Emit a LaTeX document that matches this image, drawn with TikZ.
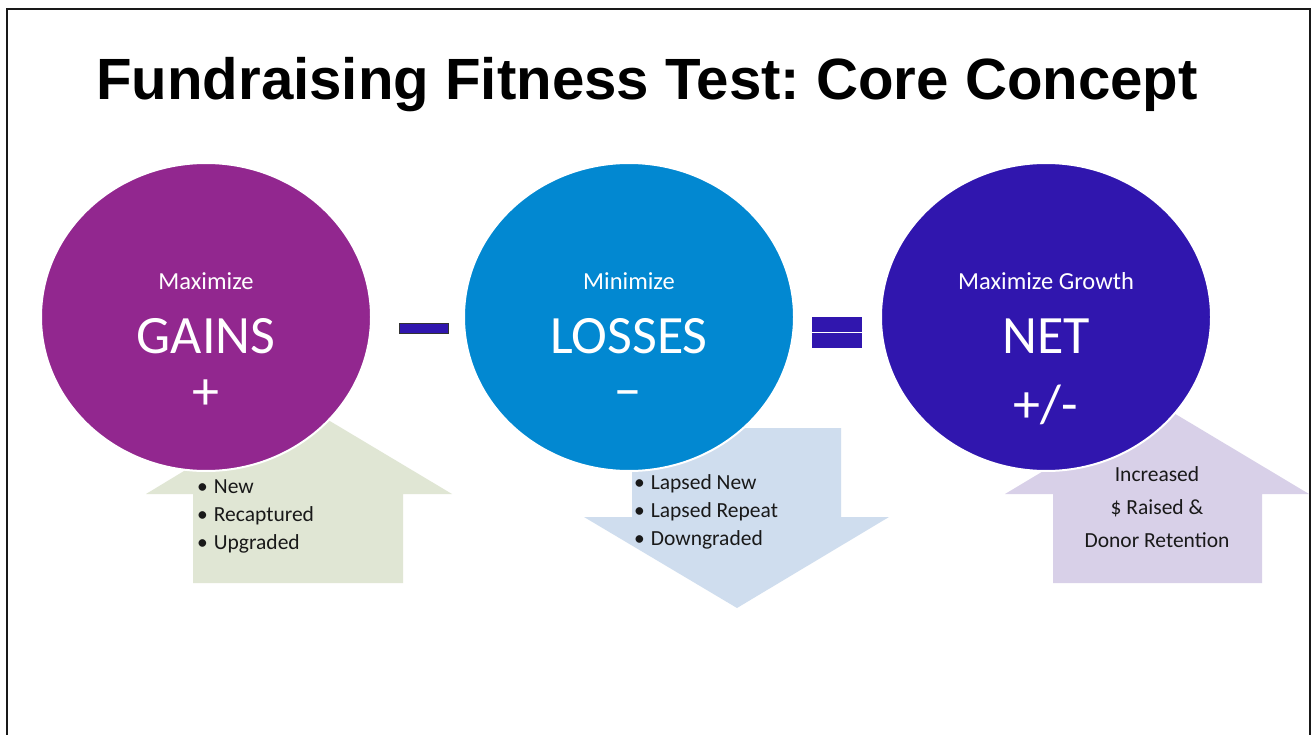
\documentclass[tikz,border=0pt]{standalone}
\usepackage{fontspec}
\setmainfont{Carlito}
\newfontfamily\headfont{Liberation Sans}
\usetikzlibrary{shapes.geometric}
\frenchspacing

\definecolor{gainpurple}{RGB}{146,39,143}
\definecolor{lossblue}{RGB}{2,136,209}
\definecolor{netindigo}{RGB}{48,22,174}
\definecolor{gainarrow}{RGB}{224,230,212}
\definecolor{lossarrow}{RGB}{207,221,238}
\definecolor{netarrow}{RGB}{216,208,232}

\tikzset{
  bubble/.style={ellipse, draw=white, line width=2pt, minimum width=330pt, minimum height=308pt, inner sep=0pt},
  smalllabel/.style={text=white, font=\fontsize{24.5}{28}\selectfont, inner sep=0pt},
  biglabel/.style={text=white, font=\fontsize{54}{60}\selectfont, inner sep=0pt},
  itemtext/.style={text=black!90, font=\fontsize{21.5}{28}\selectfont, inner sep=0pt, anchor=west, align=left},
  optbar/.style={fill=netindigo},
}

\begin{document}
\begin{tikzpicture}[x=1pt, y=-1pt]
\useasboundingbox (0,0) rectangle (1312,735);
\fill[white] (0,0) rectangle (1312,735);

% slide frame, open at the bottom
\draw[line width=2.5pt, black!90] (7,735) -- (7,9) -- (1310,9) -- (1310,735);

% title
\node[inner sep=0pt, anchor=base] (title) at (647,100)
  {\headfont\bfseries\fontsize{58.2}{66}\selectfont Fundraising Fitness Test: Core Concept};

% block arrows behind the bubbles
\fill[gainarrow] (193,583) -- (193,494) -- (146,494) -- (298,402) -- (452,494) -- (403,494) -- (403,583) -- cycle;
\fill[lossarrow] (632,428) -- (841,428) -- (841,517) -- (889,517) -- (737,608) -- (584,517) -- (632,517) -- cycle;
\fill[netarrow] (1053,583) -- (1053,494) -- (1005,494) -- (1157,403) -- (1309,494) -- (1262,494) -- (1262,583) -- cycle;

% the three bubbles
\node[bubble, fill=gainpurple] (gains) at (206,317) {};
\node[bubble, fill=lossblue] (losses) at (629,317) {};
\node[bubble, fill=netindigo] (net) at (1046,317) {};

% bubble labels
\node[smalllabel] (gainsTop) at (206,281) {Maximize};
\node[biglabel] (gainsMid) at (206,336) {GAINS};
\node[biglabel] (gainsSign) at (206,395) {+};

\node[smalllabel] (lossesTop) at (629,281) {Minimize};
\node[biglabel] (lossesMid) at (629,336) {LOSSES};
\node[biglabel] (lossesSign) at (628,400) {−};

\node[smalllabel] (netTop) at (1046,281) {Maximize Growth};
\node[biglabel] (netMid) at (1046,336) {NET};
\node[biglabel] (netSign) at (1046,405) {+/-};

% operators between the bubbles
\draw[optbar, draw=black!80, line width=0.8pt] (399,323) rectangle (448,333);
\fill[optbar] (812,317) rectangle (862,332);
\fill[optbar] (812,333) rectangle (862,348);

% bullet lists and the result text
\node[itemtext] (gainsList) at (197,516)
  {\textbullet\hspace{6pt}New\\ \textbullet\hspace{6pt}Recaptured\\ \textbullet\hspace{6pt}Upgraded};
\node[itemtext] (lossesList) at (634,512)
  {\textbullet\hspace{6pt}Lapsed New\\ \textbullet\hspace{6pt}Lapsed Repeat\\ \textbullet\hspace{6pt}Downgraded};
\node[text=black!90, font=\fontsize{21.5}{33}\selectfont, inner sep=0pt, align=center] (netList) at (1157,507)
  {Increased\\ \$ Raised \&\\ Donor Retention};
\end{tikzpicture}
\end{document}
